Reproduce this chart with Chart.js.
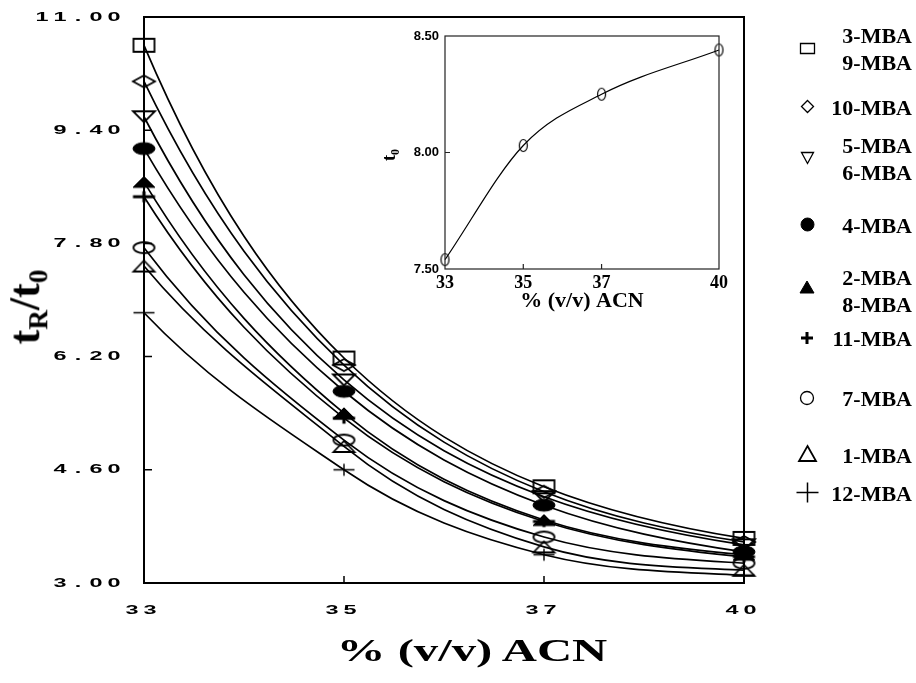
<!DOCTYPE html>
<html>
<head>
<meta charset="utf-8">
<script src="https://cdn.jsdelivr.net/npm/chart.js@4.4.1/dist/chart.umd.min.js"></script>
<style>
  html, body { margin: 0; padding: 0; background: #fff; }
  #page { position: relative; width: 916px; height: 683px; overflow: hidden; background: #fff; }
  #main { position: absolute; left: 0; top: 0; }
  #inset { position: absolute; left: 380px; top: 0; }
  .title { position: absolute; font-family: "Liberation Serif", serif; font-weight: bold; white-space: nowrap; line-height: 1; color: #000; }
  #ytitle { left: 28px; top: 307px; font-size: 44px; transform: translate(-50%, -50%) rotate(-90deg); }
  #ytitle sub { font-size: 0.62em; vertical-align: -0.3em; }
  #xtitle { left: 472px; top: 650px; font-size: 31px; transform: translate(-50%, -50%) scaleX(1.57); }
  .leg-text { position: absolute; right: 4px; font: bold 22px "Liberation Serif", serif; line-height: 27px; text-align: right; color: #000; white-space: nowrap; }
  .leg-mark { position: absolute; }
</style>
</head>
<body>
<div id="page">
  <canvas id="main" width="916" height="683"></canvas>
  <canvas id="inset" width="360" height="320"></canvas>
  <div class="title" id="ytitle">t<sub>R</sub>/t<sub>0</sub></div>
  <div class="title" id="xtitle">% (v/v) ACN</div>
</div>
<script>
// main chart: t_R/t_0 against % ACN
const acnLevels = ['33', '35', '37', '40']
const yTickValues = [3.00, 4.60, 6.20, 7.80, 9.40, 11.00]

const mba3and9 = [10.60, 6.18, 4.36, 3.63]
const mba10 = [10.09, 6.08, 4.29, 3.58]
const mba5and6 = [9.59, 5.87, 4.22, 3.54]
const mba4 = [9.14, 5.71, 4.10, 3.44]
const mba2and8 = [8.67, 5.40, 3.89, 3.40]
const mba11 = [8.46, 5.33, 3.87, 3.37]
const mba7 = [7.74, 5.02, 3.65, 3.28]
const mba1 = [7.48, 4.93, 3.51, 3.18]
const mba12 = [6.82, 4.60, 3.40, 3.11]

const seriesLabels = [
  ['3-MBA', '9-MBA'], ['10-MBA'], ['5-MBA', '6-MBA'], ['4-MBA'],
  ['2-MBA', '8-MBA'], ['11-MBA'], ['7-MBA'], ['1-MBA'], ['12-MBA']
]
const seriesValues = [mba3and9, mba10, mba5and6, mba4, mba2and8, mba11, mba7, mba1, mba12]

// inset: t0 against % ACN
const insetAcn = [33, 35, 37, 40]
const insetT0 = [7.54, 8.03, 8.25, 8.44]
const insetYTicks = [7.50, 8.00, 8.50]

// marker shapes (plot markers are drawn wide, like the scanned figure)
const markerKinds = ['square', 'diamond', 'triDown', 'circleFill', 'triFill', 'plusBold', 'circle', 'tri', 'plus']
const plotMarkerSize = {
  square: [21, 13, 1.8], diamond: [22, 12, 1.8], triDown: [22, 11, 1.8],
  circleFill: [22, 12, 1], triFill: [22, 11, 1], plusBold: [22, 11, 3.2],
  circle: [21, 11, 1.8], tri: [21, 11, 1.8], plus: [21, 12, 1.4]
}
const legendMarkerSize = {
  square: [14, 10, 1.3], diamond: [12, 12, 1.3], triDown: [12, 11, 1.3],
  circleFill: [13, 13, 1], triFill: [14, 12, 1], plusBold: [12, 12, 3],
  circle: [13, 13, 1.3], tri: [17, 15, 1.8], plus: [22, 20, 1.5]
}
const legendTextY = [35, 107, 145, 225, 277, 338, 398, 455, 493]
const legendMarkY = [48, 106, 158, 224, 287, 338, 398, 453, 492]

function drawMarker(ctx, kind, cx, cy, w, h, lw) {
  const hw = w / 2, hh = h / 2
  ctx.save()
  ctx.strokeStyle = '#000'
  ctx.fillStyle = '#000'
  ctx.lineWidth = lw
  ctx.beginPath()
  if (kind === 'square') {
    ctx.rect(cx - hw, cy - hh, w, h)
  } else if (kind === 'diamond') {
    ctx.moveTo(cx, cy - hh); ctx.lineTo(cx + hw, cy); ctx.lineTo(cx, cy + hh); ctx.lineTo(cx - hw, cy); ctx.closePath()
  } else if (kind === 'triDown') {
    ctx.moveTo(cx - hw, cy - hh); ctx.lineTo(cx + hw, cy - hh); ctx.lineTo(cx, cy + hh); ctx.closePath()
  } else if (kind === 'tri' || kind === 'triFill') {
    ctx.moveTo(cx, cy - hh); ctx.lineTo(cx + hw, cy + hh); ctx.lineTo(cx - hw, cy + hh); ctx.closePath()
  } else if (kind === 'circle' || kind === 'circleFill') {
    ctx.ellipse(cx, cy, hw, hh, 0, 0, Math.PI * 2)
  } else {
    ctx.moveTo(cx - hw, cy); ctx.lineTo(cx + hw, cy); ctx.moveTo(cx, cy - hh); ctx.lineTo(cx, cy + hh)
  }
  if (kind.endsWith('Fill')) ctx.fill()
  ctx.stroke()
  ctx.restore()
}

function markerCanvas(kind, size) {
  const [w, h, lw] = size
  const c = document.createElement('canvas')
  c.width = Math.ceil(w + lw * 2 + 2)
  c.height = Math.ceil(h + lw * 2 + 2)
  drawMarker(c.getContext('2d'), kind, c.width / 2, c.height / 2, w, h, lw)
  return c
}

// the tick labels of the scan are a wide, spaced-out face
function drawWideText(ctx, text, cx, cy) {
  const pitch = 18
  const first = cx - (text.length - 1) * pitch / 2
  ctx.save()
  ctx.font = 'bold 13px "Liberation Sans"'
  ctx.fillStyle = '#000'
  ctx.textAlign = 'center'
  ctx.textBaseline = 'middle'
  for (let i = 0; i < text.length; i++) {
    ctx.save()
    ctx.translate(first + i * pitch, cy)
    ctx.scale(1.8, 1)
    ctx.fillText(text[i], 0, 0)
    ctx.restore()
  }
  ctx.restore()
}

function expFactor(r) {
  return r > 0 && Math.abs(r - 1) > 1e-3 ? Math.log(r) / (r - 1) : 1
}

// the curves in the figure are exponential-looking fits, so give each
// point the tangent of an exponential through its neighbouring points
const expCurves = {
  id: 'expCurves',
  beforeDatasetsDraw(chart) {
    chart.getSortedVisibleDatasetMetas().forEach(meta => {
      const pts = meta.data
      if (pts.length < 3) return
      meta.dataset.updateControlPoints(chart.chartArea, 'x')
      const s = []
      for (let i = 0; i < pts.length - 1; i++) {
        s.push((pts[i + 1].y - pts[i].y) / (pts[i + 1].x - pts[i].x))
      }
      const sum = pts.map(() => 0)
      const cnt = pts.map(() => 0)
      for (let j = 0; j < s.length - 1; j++) {
        const r = s[j + 1] / s[j]
        const f = expFactor(r)
        sum[j] += s[j] * f; cnt[j]++
        sum[j + 1] += s[j + 1] * f; cnt[j + 1]++
        sum[j + 2] += s[j + 1] * r * f; cnt[j + 2]++
      }
      pts.forEach((p, i) => {
        const m = sum[i] / cnt[i]
        if (i > 0) {
          const dx = (p.x - pts[i - 1].x) / 3
          p.cp1x = p.x - dx; p.cp1y = p.y - m * dx
        }
        if (i < pts.length - 1) {
          const dx = (pts[i + 1].x - p.x) / 3
          p.cp2x = p.x + dx; p.cp2y = p.y + m * dx
        }
      })
    })
  }
}

const mainFrame = {
  id: 'mainFrame',
  afterDatasetsDraw(chart) {
    const { ctx, chartArea: a, scales: { x, y } } = chart
    ctx.save()
    ctx.strokeStyle = '#000'
    ctx.lineWidth = 2
    ctx.strokeRect(a.left, a.top, a.right - a.left, a.bottom - a.top)
    ctx.lineWidth = 1.5
    ctx.beginPath()
    y.ticks.forEach(t => {
      const py = y.getPixelForValue(t.value)
      if (py > a.top + 2 && py < a.bottom - 2) { ctx.moveTo(a.left, py); ctx.lineTo(a.left + 8, py) }
    })
    x.ticks.forEach((t, i) => {
      const px = x.getPixelForTick(i)
      if (px > a.left + 2 && px < a.right - 2) { ctx.moveTo(px, a.bottom); ctx.lineTo(px, a.bottom - 7) }
    })
    ctx.stroke()
    y.ticks.forEach(t => {
      const label = t.value.toFixed(2)
      const span = (label.length - 1) * 18 + 12
      drawWideText(ctx, label, a.left - 24 - span / 2, y.getPixelForValue(t.value))
    })
    x.ticks.forEach((t, i) => {
      drawWideText(ctx, x.getLabelForValue(t.value), x.getPixelForTick(i) - 3, a.bottom + 27)
    })
    ctx.restore()
  }
}

new Chart(document.getElementById('main'), {
  type: 'line',
  data: {
    labels: acnLevels,
    datasets: seriesValues.map((values, i) => ({
      label: seriesLabels[i].join(', '),
      data: values,
      borderColor: '#000',
      borderWidth: 1.7,
      tension: 0.4,
      fill: false,
      clip: false,
      pointStyle: markerCanvas(markerKinds[i], plotMarkerSize[markerKinds[i]]),
      pointRadius: 10
    }))
  },
  options: {
    responsive: false,
    animation: false,
    devicePixelRatio: 1,
    layout: { padding: { left: 0, right: 172, top: 17, bottom: 0 } },
    plugins: { legend: { display: false }, tooltip: { enabled: false } },
    scales: {
      x: {
        type: 'category',
        offset: false,
        grid: { display: false, drawTicks: false },
        border: { display: false },
        ticks: { display: false },
        afterFit(scale) { scale.height = 100 }
      },
      y: {
        min: 3,
        max: 11,
        grid: { display: false, drawTicks: false },
        border: { display: false },
        ticks: { display: false },
        afterBuildTicks(scale) { scale.ticks = yTickValues.map(v => ({ value: v })) },
        afterFit(scale) { scale.width = 144 }
      }
    }
  },
  plugins: [expCurves, mainFrame]
})

// legend on the right
const page = document.getElementById('page')
markerKinds.forEach((kind, i) => {
  const c = markerCanvas(kind, legendMarkerSize[kind])
  c.className = 'leg-mark'
  c.style.left = (807 - c.width / 2) + 'px'
  c.style.top = (legendMarkY[i] - c.height / 2) + 'px'
  page.appendChild(c)
  const t = document.createElement('div')
  t.className = 'leg-text'
  t.style.top = (legendTextY[i] - 13.5) + 'px'
  t.innerHTML = seriesLabels[i].join('<br>')
  page.appendChild(t)
})

const insetFrame = {
  id: 'insetFrame',
  afterDatasetsDraw(chart) {
    const { ctx, chartArea: a, scales: { x, y } } = chart
    ctx.save()
    ctx.strokeStyle = '#222'
    ctx.lineWidth = 1.2
    ctx.strokeRect(a.left, a.top, a.right - a.left, a.bottom - a.top)
    ctx.beginPath()
    x.ticks.forEach(t => {
      const px = x.getPixelForValue(t.value)
      if (px > a.left + 2 && px < a.right - 2) { ctx.moveTo(px, a.bottom); ctx.lineTo(px, a.bottom - 5) }
    })
    y.ticks.forEach(t => {
      const py = y.getPixelForValue(t.value)
      if (py > a.top + 2 && py < a.bottom - 2) { ctx.moveTo(a.left, py); ctx.lineTo(a.left + 5, py) }
    })
    ctx.stroke()
    // rotated "t0" axis title
    ctx.translate(15, 153)
    ctx.rotate(-Math.PI / 2)
    ctx.fillStyle = '#000'
    ctx.textBaseline = 'alphabetic'
    ctx.font = 'bold 18px "Liberation Serif"'
    const tw = ctx.measureText('t').width
    ctx.fillText('t', -8, 0)
    ctx.font = 'bold 12px "Liberation Serif"'
    ctx.fillText('0', -8 + tw, 4)
    ctx.restore()
  }
}

new Chart(document.getElementById('inset'), {
  type: 'line',
  data: {
    datasets: [{
      label: 't0',
      data: insetAcn.map((v, i) => ({ x: v, y: insetT0[i] })),
      borderColor: '#000',
      borderWidth: 1.2,
      cubicInterpolationMode: 'monotone',
      fill: false,
      clip: false,
      pointStyle: markerCanvas('circle', [8, 12, 1.2]),
      pointRadius: 6
    }]
  },
  options: {
    responsive: false,
    animation: false,
    devicePixelRatio: 1,
    layout: { padding: { left: 0, right: 21, top: 36, bottom: 0 } },
    plugins: { legend: { display: false }, tooltip: { enabled: false } },
    scales: {
      x: {
        type: 'linear',
        min: 33,
        max: 40,
        grid: { display: false, drawTicks: false },
        border: { display: false },
        afterBuildTicks(scale) { scale.ticks = insetAcn.map(v => ({ value: v })) },
        ticks: {
          color: '#000',
          padding: 4,
          maxRotation: 0,
          autoSkip: false,
          font: { family: '"Liberation Serif"', weight: 'bold', size: 18 }
        },
        title: {
          display: true,
          text: '% (v/v) ACN',
          color: '#000',
          padding: { top: 0, bottom: 5 },
          font: { family: '"Liberation Serif"', weight: 'bold', size: 22 }
        },
        afterFit(scale) { scale.height = 51 }
      },
      y: {
        min: 7.5,
        max: 8.5,
        grid: { display: false, drawTicks: false },
        border: { display: false },
        afterBuildTicks(scale) { scale.ticks = insetYTicks.map(v => ({ value: v })) },
        ticks: {
          color: '#000',
          padding: 6,
          font: { family: '"Liberation Sans"', weight: 'bold', size: 13 },
          callback: value => value.toFixed(2)
        },
        afterFit(scale) { scale.width = 65 }
      }
    }
  },
  plugins: [insetFrame]
})
</script>
</body>
</html>
